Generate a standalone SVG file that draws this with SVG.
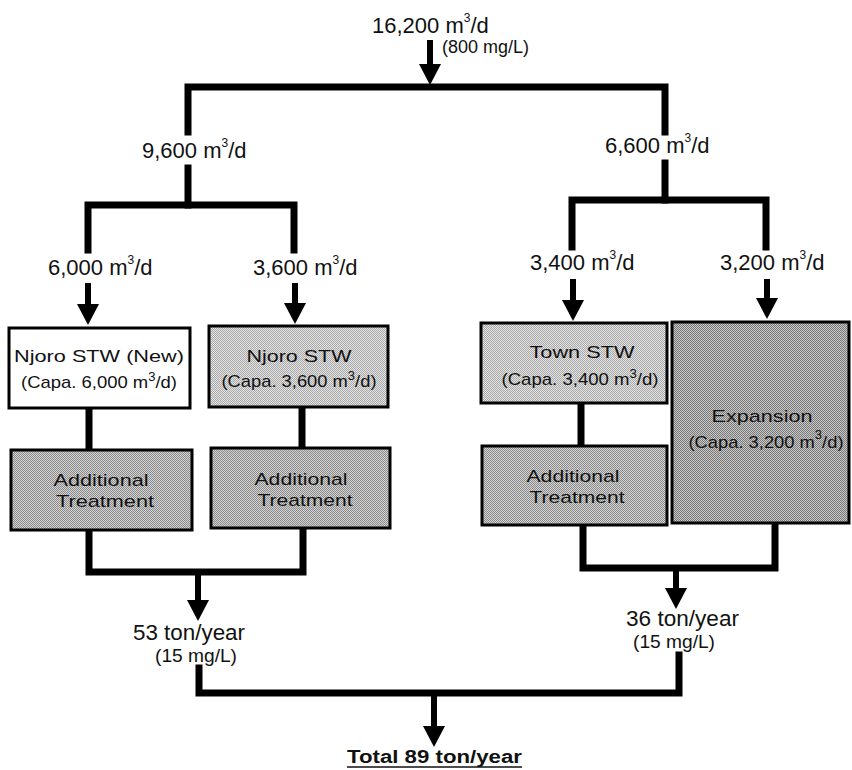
<svg xmlns="http://www.w3.org/2000/svg" width="852" height="770" viewBox="0 0 852 770">
<style>
  .lbl { font-family: "Liberation Sans", Arial, sans-serif; fill: #111; }
  .flow { font-size: 22px; }
  .sm { font-size: 18px; }
  .box { font-size: 17px; text-anchor: middle; }
  .cap { font-size: 17px; text-anchor: middle; }
  .sup { font-size: 12px; }
  .wire { fill: none; stroke: #000; stroke-width: 7; stroke-linejoin: miter; stroke-linecap: square; }
  .shaft { stroke: #000; stroke-width: 6; fill: none; marker-end: url(#ah); }
  .node { stroke: #000; stroke-width: 3; }
</style>
<defs>
  <marker id="ah" markerUnits="userSpaceOnUse" markerWidth="22" markerHeight="24" viewBox="0 0 22 24" refX="8" refY="12" orient="auto">
    <path d="M0,1 L21,12 L0,23 z" fill="#000"/>
  </marker>
  <pattern id="pLight" width="2" height="2" patternUnits="userSpaceOnUse">
    <rect width="2" height="2" fill="#e4e4e4"/>
    <rect width="1" height="1" fill="#a8a8a8"/>
    <rect x="1" y="1" width="1" height="1" fill="#a8a8a8"/>
  </pattern>
  <pattern id="pMed" width="2" height="2" patternUnits="userSpaceOnUse">
    <rect width="2" height="2" fill="#d6d6d6"/>
    <rect width="1" height="1" fill="#888"/>
    <rect x="1" y="1" width="1" height="1" fill="#888"/>
  </pattern>
  <pattern id="pDark" width="2" height="2" patternUnits="userSpaceOnUse">
    <rect width="2" height="2" fill="#cacaca"/>
    <rect width="1" height="1" fill="#777"/>
    <rect x="1" y="1" width="1" height="1" fill="#777"/>
  </pattern>
</defs>
<rect width="852" height="770" fill="#fff"/>

<g id="connectors">
  <line class="shaft" x1="430" y1="40" x2="430" y2="72"/>
  <path class="wire" d="M188,132 V87 H665 V132"/>
  <path class="wire" d="M188,168 V205"/>
  <path class="wire" d="M88,250 V205 H294 V250"/>
  <line class="shaft" x1="88" y1="283" x2="88" y2="312"/>
  <line class="shaft" x1="295" y1="283" x2="295" y2="311"/>
  <path class="wire" d="M89,410 V449"/>
  <path class="wire" d="M302,409 V447"/>
  <path class="wire" d="M89,532 V572 H303 V530"/>
  <line class="shaft" x1="198" y1="572" x2="198" y2="608"/>
  <path class="wire" d="M665,163 V200"/>
  <path class="wire" d="M572,247 V200 H766 V247"/>
  <line class="shaft" x1="573" y1="279" x2="573" y2="308"/>
  <line class="shaft" x1="767" y1="279" x2="767" y2="306"/>
  <path class="wire" d="M581,405 V445"/>
  <path class="wire" d="M583,527 V568 H775 V525"/>
  <line class="shaft" x1="676" y1="568" x2="676" y2="596"/>
  <path class="wire" d="M199,668 V693 H679 V655"/>
  <line class="shaft" x1="434" y1="693" x2="434" y2="734"/>
</g>

<g id="labels" class="lbl">
  <text class="flow" x="372" y="33">16,200 m<tspan class="sup" dy="-11">3</tspan><tspan dy="11">/d</tspan></text>
  <text class="sm" x="442" y="53" font-size="17">(800 mg/L)</text>
  <text class="flow" x="142" y="158">9,600 m<tspan class="sup" dy="-11">3</tspan><tspan dy="11">/d</tspan></text>
  <text class="flow" x="605" y="153">6,600 m<tspan class="sup" dy="-11">3</tspan><tspan dy="11">/d</tspan></text>
  <text class="flow" x="48" y="275">6,000 m<tspan class="sup" dy="-11">3</tspan><tspan dy="11">/d</tspan></text>
  <text class="flow" x="253" y="275">3,600 m<tspan class="sup" dy="-11">3</tspan><tspan dy="11">/d</tspan></text>
  <text class="flow" x="530" y="270">3,400 m<tspan class="sup" dy="-11">3</tspan><tspan dy="11">/d</tspan></text>
  <text class="flow" x="720" y="270">3,200 m<tspan class="sup" dy="-11">3</tspan><tspan dy="11">/d</tspan></text>
  <text class="flow" x="133" y="640" textLength="112" lengthAdjust="spacingAndGlyphs">53 ton/year</text>
  <text class="sm" x="155" y="662" textLength="82" lengthAdjust="spacingAndGlyphs">(15 mg/L)</text>
  <text class="flow" x="626" y="626" textLength="113" lengthAdjust="spacingAndGlyphs">36 ton/year</text>
  <text class="sm" x="633" y="648" textLength="82" lengthAdjust="spacingAndGlyphs">(15 mg/L)</text>
  <text x="347" y="763" font-size="18" font-weight="bold" textLength="175" lengthAdjust="spacingAndGlyphs">Total 89 ton/year</text>
  <line x1="347" y1="767" x2="522" y2="767" stroke="#111" stroke-width="1.5"/>
</g>

<g id="njoro-new" class="lbl">
  <rect class="node" x="9" y="328" width="181" height="80" fill="#fff"/>
  <text class="box" x="99" y="362" font-size="19" textLength="170" lengthAdjust="spacingAndGlyphs">Njoro STW (New)</text>
  <text class="cap" x="99" y="388" textLength="156" lengthAdjust="spacingAndGlyphs">(Capa. 6,000 m<tspan class="sup" dy="-7">3</tspan><tspan dy="7">/d)</tspan></text>
</g>
<g id="njoro" class="lbl">
  <rect class="node" x="209" y="326" width="179" height="81" fill="url(#pLight)"/>
  <text class="box" x="299" y="362" font-size="19" textLength="105" lengthAdjust="spacingAndGlyphs">Njoro STW</text>
  <text class="cap" x="299" y="387" textLength="155" lengthAdjust="spacingAndGlyphs">(Capa. 3,600 m<tspan class="sup" dy="-7">3</tspan><tspan dy="7">/d)</tspan></text>
</g>
<g id="additional-1" class="lbl">
  <rect class="node" x="11" y="450" width="181" height="80" fill="url(#pMed)"/>
  <text class="box" x="101" y="486" textLength="95" lengthAdjust="spacingAndGlyphs">Additional</text>
  <text class="box" x="105" y="507" textLength="98" lengthAdjust="spacingAndGlyphs">Treatment</text>
</g>
<g id="additional-2" class="lbl">
  <rect class="node" x="211" y="448" width="179" height="80" fill="url(#pMed)"/>
  <text class="box" x="301" y="485" textLength="93" lengthAdjust="spacingAndGlyphs">Additional</text>
  <text class="box" x="305" y="506" textLength="95" lengthAdjust="spacingAndGlyphs">Treatment</text>
</g>
<g id="town-stw" class="lbl">
  <rect class="node" x="481" y="323" width="186" height="80" fill="url(#pLight)"/>
  <text class="box" x="582" y="358" font-size="19" textLength="105" lengthAdjust="spacingAndGlyphs">Town STW</text>
  <text class="cap" x="580" y="385" textLength="157" lengthAdjust="spacingAndGlyphs">(Capa. 3,400 m<tspan class="sup" dy="-7">3</tspan><tspan dy="7">/d)</tspan></text>
</g>
<g id="additional-3" class="lbl">
  <rect class="node" x="482" y="446" width="185" height="79" fill="url(#pMed)"/>
  <text class="box" x="573" y="482" textLength="93" lengthAdjust="spacingAndGlyphs">Additional</text>
  <text class="box" x="577" y="503" textLength="95" lengthAdjust="spacingAndGlyphs">Treatment</text>
</g>
<g id="expansion" class="lbl">
  <rect class="node" x="672" y="322" width="177" height="201" fill="url(#pDark)"/>
  <text class="box" x="762" y="422" font-size="19" textLength="101" lengthAdjust="spacingAndGlyphs">Expansion</text>
  <text class="cap" x="766" y="448" textLength="155" lengthAdjust="spacingAndGlyphs">(Capa. 3,200 m<tspan class="sup" dy="-9">3</tspan><tspan dy="9">/d)</tspan></text>
</g>
</svg>
